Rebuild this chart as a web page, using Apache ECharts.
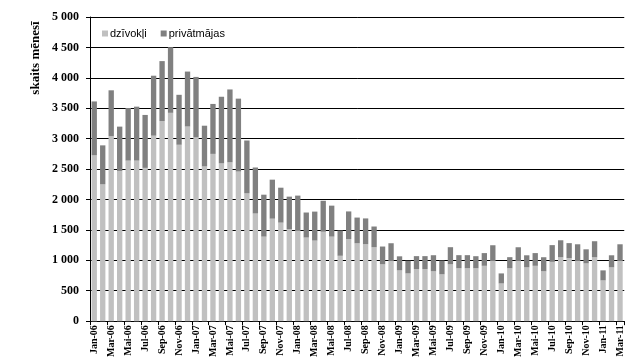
<!DOCTYPE html>
<html>
<head>
<meta charset="utf-8">
<script src="https://cdn.jsdelivr.net/npm/echarts@6/dist/echarts.min.js"></script>
<style>html,body{margin:0;padding:0;background:#fff}#c{width:625px;height:360px}</style>
</head>
<body>
<div id="c"></div>
<script>
var months = ['Jan','Feb','Mar','Apr','Mai','Jun','Jul','Aug','Sep','Okt','Nov','Dec'];
var categories = [];
['06','07','08','09','10','11'].forEach(function(y){ months.forEach(function(m){ categories.push(m + '-' + y); }); });
categories = categories.slice(0, 63);

var dzivokli = [2725,2250,3040,2470,2640,2640,2520,3050,3290,3425,2900,3200,3020,2545,2750,2595,2610,2460,2100,1770,1390,1685,1620,1510,1495,1375,1325,1470,1390,1075,1350,1280,1265,1215,935,1000,835,785,855,855,820,770,935,870,870,870,910,1000,620,870,1000,885,910,820,975,1050,1035,1000,950,1050,670,885,1000];
var privatmajas = [887,640,755,728,864,886,870,985,985,1079,821,903,995,668,821,1094,1199,1198,870,756,689,641,574,537,569,411,476,509,509,415,454,423,424,341,292,281,231,209,214,214,264,226,281,215,215,198,209,248,165,182,215,198,209,231,275,280,248,264,231,264,165,198,264];
var yTicks = {min: 0, max: 5000, interval: 500};

var serif = 'Liberation Serif';
var sans = 'Liberation Sans';
var chart = echarts.init(document.getElementById('c'), null, {renderer: 'canvas'});
chart.setOption({
  animation: false,
  backgroundColor: '#fff',
  grid: {left: 90, top: 17, width: 537, bottom: 38, containLabel: false},
  legend: {
    left: 97, top: 23, itemWidth: 6, itemHeight: 6, itemGap: 14, icon: 'rect',
    textStyle: {fontFamily: sans, fontSize: 11, color: '#000', padding: [0,0,0,-3]},
    data: ['dzīvokļi', 'privātmājas']
  },
  graphic: [{
    type: 'text', x: 36, y: 58, rotation: Math.PI / 2,
    style: {text: 'skaits mēnesī', font: 'bold 13px "Liberation Serif"', fill: '#000', align: 'center', verticalAlign: 'middle'}
  }],
  xAxis: {
    type: 'category', data: categories, boundaryGap: true,
    axisLine: {lineStyle: {color: '#000', width: 1}},
    axisTick: {show: true, interval: 1, length: 4, lineStyle: {color: '#000'}},
    axisLabel: {interval: 1, rotate: 90, margin: 4, fontFamily: serif, fontWeight: 'bold', fontSize: 10, color: '#000'}
  },
  yAxis: {
    type: 'value', min: yTicks.min, max: yTicks.max, interval: yTicks.interval,
    axisLine: {show: true, lineStyle: {color: '#000', width: 1}},
    axisTick: {show: true, length: 4, lineStyle: {color: '#000'}},
    splitLine: {show: true, lineStyle: {color: '#000', width: 1}},
    axisLabel: {
      margin: 11, fontFamily: serif, fontWeight: 'bold', fontSize: 12, color: '#000',
      formatter: function(v){ return String(v).replace(/\B(?=(\d{3})+(?!\d))/g, ' '); }
    }
  },
  series: [
    {name: 'dzīvokļi', type: 'bar', stack: 's', data: dzivokli, barCategoryGap: '37%', itemStyle: {color: '#c0c0c0'}},
    {name: 'privātmājas', type: 'bar', stack: 's', data: privatmajas, barCategoryGap: '37%', itemStyle: {color: '#808080'}}
  ]
});
</script>
</body>
</html>
